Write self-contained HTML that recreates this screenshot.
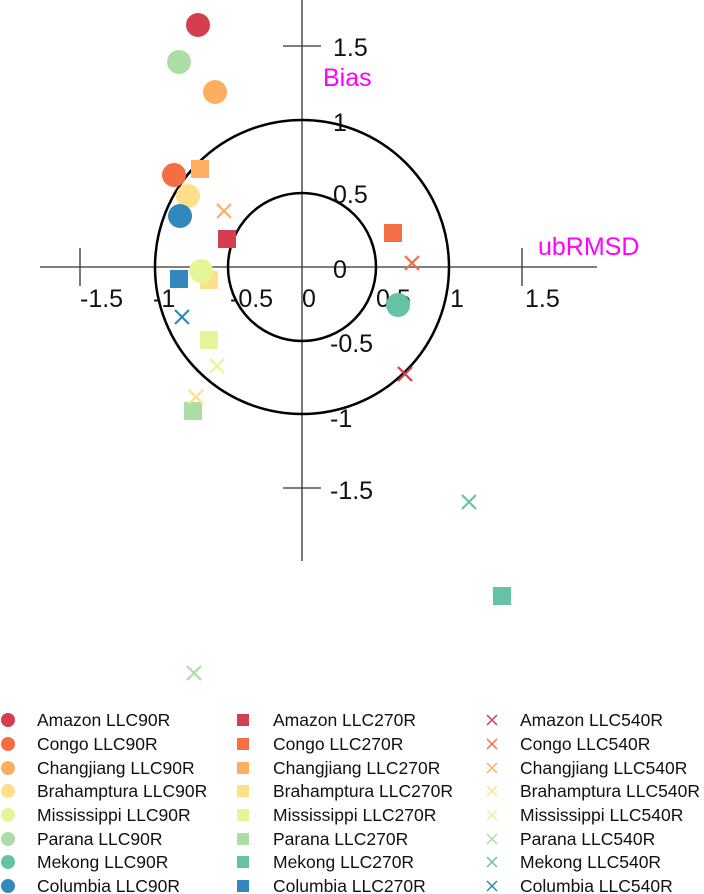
<!DOCTYPE html>
<html><head><meta charset="utf-8"><style>body{margin:0;background:#fff}svg{display:block}text{font-family:"Liberation Sans",sans-serif}</style></head><body>
<svg width="704" height="894" xmlns="http://www.w3.org/2000/svg">
<g stroke="#333" stroke-width="1.3">
<line x1="40" y1="267" x2="597" y2="267"/><line x1="302" y1="0" x2="302" y2="561"/>
<line x1="80" y1="248" x2="80" y2="286"/><line x1="522" y1="248" x2="522" y2="286"/>
<line x1="283" y1="46" x2="321" y2="46"/><line x1="283" y1="488" x2="321" y2="488"/>
</g>
<g fill="none" stroke="#000" stroke-width="2.5"><circle cx="302" cy="267" r="147"/><circle cx="302" cy="267" r="74"/></g>
<g font-size="25" fill="#111">
<text x="333" y="56">1.5</text><text x="333" y="131">1</text><text x="333" y="203">0.5</text><text x="333" y="278">0</text><text x="330" y="352">-0.5</text><text x="330" y="427">-1</text><text x="330" y="499">-1.5</text>
<text x="80" y="307">-1.5</text><text x="153" y="307">-1</text><text x="230" y="307">-0.5</text><text x="302" y="307">0</text><text x="376" y="307">0.5</text><text x="450" y="307">1</text><text x="525" y="307">1.5</text>
</g>
<text x="323" y="86" font-size="25" fill="#f0f">Bias</text>
<text x="538" y="255" font-size="25" fill="#f0f">ubRMSD</text>
<g>
<circle cx="198" cy="25" r="12" fill="#d53e4f"/><circle cx="179" cy="62" r="12" fill="#abdda4"/><circle cx="215" cy="92" r="12" fill="#fdae61"/>
<rect x="191" y="160" width="18" height="18" fill="#fdae61"/>
<circle cx="174" cy="175" r="12" fill="#f46d43"/><circle cx="188" cy="196" r="12" fill="#fee08b"/><circle cx="180" cy="216" r="12" fill="#3288bd"/>
<rect x="218" y="230" width="18" height="18" fill="#d53e4f"/><rect x="384" y="224" width="18" height="18" fill="#f46d43"/>
<rect x="170" y="270" width="18" height="18" fill="#3288bd"/><rect x="200" y="271" width="18" height="18" fill="#fee08b"/>
<circle cx="201" cy="271" r="12" fill="#e6f598"/><circle cx="398" cy="305" r="12" fill="#66c2a5"/>
<rect x="200" y="331" width="18" height="18" fill="#e6f598"/><rect x="184" y="402" width="18" height="18" fill="#abdda4"/><rect x="493" y="587" width="18" height="18" fill="#66c2a5"/>
</g>
<g stroke-width="2.2">
<path d="M217 204l14 14M231 204l-14 14" stroke="#fdae61"/>
<path d="M405 256l14 14M419 256l-14 14" stroke="#f46d43"/>
<path d="M175 310l14 14M189 310l-14 14" stroke="#3288bd"/>
<path d="M210 359l14 14M224 359l-14 14" stroke="#e6f598"/>
<path d="M398 367l14 14M412 367l-14 14" stroke="#d53e4f"/>
<path d="M189 390l14 14M203 390l-14 14" stroke="#fee08b"/>
<path d="M462 495l14 14M476 495l-14 14" stroke="#66c2a5"/>
<path d="M187 666l14 14M201 666l-14 14" stroke="#abdda4"/>
</g>
<g font-size="17.5" fill="#111">
<g transform="translate(0,720)">
<circle cx="8" cy="0" r="7" fill="#d53e4f"/><text x="37" y="6">Amazon LLC90R</text>
<rect x="237" y="-6" width="12" height="12" fill="#d53e4f"/><text x="273" y="6">Amazon LLC270R</text>
<path d="M487 -5l10 10M497 -5l-10 10" stroke="#d53e4f" stroke-width="1.5"/><text x="520" y="6">Amazon LLC540R</text></g>
<g transform="translate(0,744)">
<circle cx="8" cy="0" r="7" fill="#f46d43"/><text x="37" y="6">Congo LLC90R</text>
<rect x="237" y="-6" width="12" height="12" fill="#f46d43"/><text x="273" y="6">Congo LLC270R</text>
<path d="M487 -5l10 10M497 -5l-10 10" stroke="#f46d43" stroke-width="1.5"/><text x="520" y="6">Congo LLC540R</text></g>
<g transform="translate(0,768)">
<circle cx="8" cy="0" r="7" fill="#fdae61"/><text x="37" y="6">Changjiang LLC90R</text>
<rect x="237" y="-6" width="12" height="12" fill="#fdae61"/><text x="273" y="6">Changjiang LLC270R</text>
<path d="M487 -5l10 10M497 -5l-10 10" stroke="#fdae61" stroke-width="1.5"/><text x="520" y="6">Changjiang LLC540R</text></g>
<g transform="translate(0,791)">
<circle cx="8" cy="0" r="7" fill="#fee08b"/><text x="37" y="6">Brahamptura LLC90R</text>
<rect x="237" y="-6" width="12" height="12" fill="#fee08b"/><text x="273" y="6">Brahamptura LLC270R</text>
<path d="M487 -5l10 10M497 -5l-10 10" stroke="#fee08b" stroke-width="1.5"/><text x="520" y="6">Brahamptura LLC540R</text></g>
<g transform="translate(0,815)">
<circle cx="8" cy="0" r="7" fill="#e6f598"/><text x="37" y="6">Mississippi LLC90R</text>
<rect x="237" y="-6" width="12" height="12" fill="#e6f598"/><text x="273" y="6">Mississippi LLC270R</text>
<path d="M487 -5l10 10M497 -5l-10 10" stroke="#e6f598" stroke-width="1.5"/><text x="520" y="6">Mississippi LLC540R</text></g>
<g transform="translate(0,839)">
<circle cx="8" cy="0" r="7" fill="#abdda4"/><text x="37" y="6">Parana LLC90R</text>
<rect x="237" y="-6" width="12" height="12" fill="#abdda4"/><text x="273" y="6">Parana LLC270R</text>
<path d="M487 -5l10 10M497 -5l-10 10" stroke="#abdda4" stroke-width="1.5"/><text x="520" y="6">Parana LLC540R</text></g>
<g transform="translate(0,862)">
<circle cx="8" cy="0" r="7" fill="#66c2a5"/><text x="37" y="6">Mekong LLC90R</text>
<rect x="237" y="-6" width="12" height="12" fill="#66c2a5"/><text x="273" y="6">Mekong LLC270R</text>
<path d="M487 -5l10 10M497 -5l-10 10" stroke="#66c2a5" stroke-width="1.5"/><text x="520" y="6">Mekong LLC540R</text></g>
<g transform="translate(0,886)">
<circle cx="8" cy="0" r="7" fill="#3288bd"/><text x="37" y="6">Columbia LLC90R</text>
<rect x="237" y="-6" width="12" height="12" fill="#3288bd"/><text x="273" y="6">Columbia LLC270R</text>
<path d="M487 -5l10 10M497 -5l-10 10" stroke="#3288bd" stroke-width="1.5"/><text x="520" y="6">Columbia LLC540R</text></g>
</g>
</svg>
</body></html>
